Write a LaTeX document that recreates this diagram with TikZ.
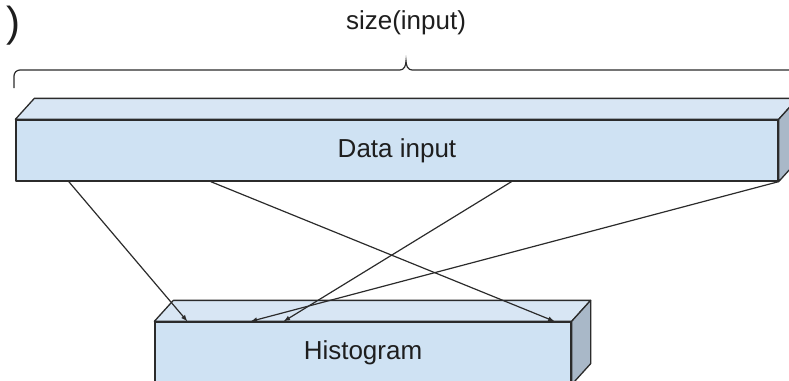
\documentclass[tikz,border=0pt]{standalone}
\usepackage{fontspec}
\setmainfont{Liberation Sans}
\usetikzlibrary{calc}
\definecolor{edge}{HTML}{2B2B2B}
\definecolor{ink}{HTML}{1E1E1E}
\definecolor{frontblue}{HTML}{CFE2F3}
\definecolor{topblue}{HTML}{D8E6F4}
\definecolor{sideblue}{HTML}{A9B8C8}
\begin{document}
\begin{tikzpicture}[x=1pt, y=-1pt,
	face/.style={draw=edge, line width=1.3pt, line join=round},
	slab/.style={face, fill=frontblue, minimum width=#1, minimum height=61pt, inner sep=0pt, text=ink, font=\fontsize{26}{30}\selectfont},
	feed/.style={draw=edge, line width=1.2pt, ->, >=latex}]
	\useasboundingbox (0,0) rectangle (789,380);
	\node[font=\fontsize{42}{48}\selectfont, text=ink, inner sep=0pt, anchor=base east] (paren) at (21,36) {)};
	\node[text=ink, font=\fontsize{26}{30}\selectfont] (sizelbl) at (406,23) {size(input)};
	\draw[draw=edge, line width=1.2pt] (14,88) -- (14,76) to[out=90, in=180] (20,70) -- (400,70) to[out=0, in=-90] (406,61) to[out=-90, in=180] (412,70) -- (792,70) to[out=0, in=90] (798,76) -- (798,88);
	\node[slab=762pt] (data) at (397,150.5) {\raisebox{-2pt}{Data input}};
	\node[slab=416pt, minimum height=62pt] (hist) at (363,353) {Histogram};
	\foreach \b in {data, hist} {
		\draw[face, fill=topblue] (\b.north west) -- ++(19,-21) -- ($(\b.north east)+(19,-21)$) -- (\b.north east) -- cycle;
		\draw[face, fill=sideblue] (\b.north east) -- ++(19,-21) -- ($(\b.south east)+(19,-21)$) -- (\b.south east) -- cycle;
	}
	\foreach \s/\e in {0.07/0.079, 0.256/0.959, 0.65/0.31, 1/0.231}
		\draw[feed] ($(data.south west)!\s!(data.south east)$) -- ($(hist.north west)!\e!(hist.north east)$);
\end{tikzpicture}
\end{document}
